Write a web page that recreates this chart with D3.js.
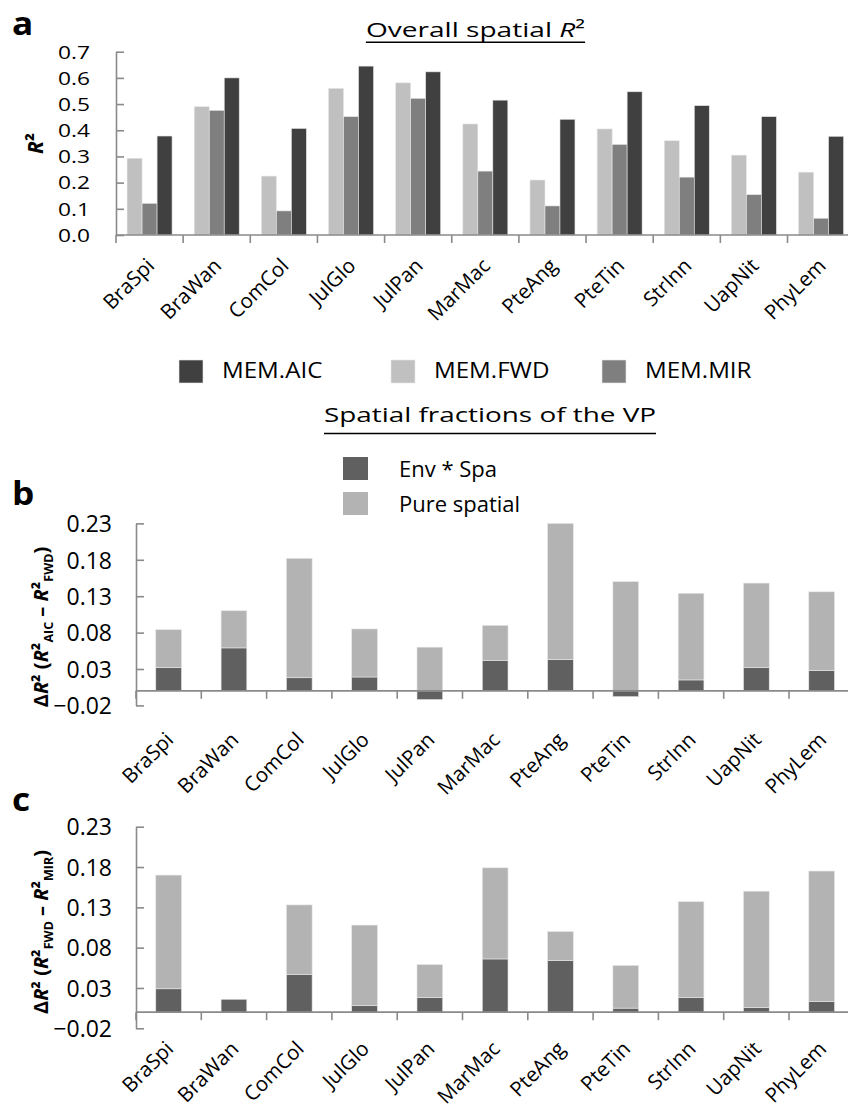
<!DOCTYPE html>
<html>
<head>
<meta charset="utf-8">
<script src="https://cdn.jsdelivr.net/npm/d3@7"></script>
<style>
  html, body { margin: 0; padding: 0; background: #fff; }
  svg { display: block; font-family: "Open Sans", "Noto Sans", sans-serif; }
</style>
</head>
<body>
<svg id="fig" width="848" height="1104"></svg>
<script>
// Species codes shared by all three panels
const categories = ["BraSpi", "BraWan", "ComCol", "JulGlo", "JulPan", "MarMac",
                    "PteAng", "PteTin", "StrInn", "UapNit", "PhyLem"];

// Panel a: overall spatial R² per selection method
const memFWD = [0.293, 0.490, 0.225, 0.560, 0.581, 0.424, 0.210, 0.405, 0.360, 0.305, 0.240];
const memMIR = [0.121, 0.476, 0.092, 0.452, 0.522, 0.244, 0.111, 0.346, 0.221, 0.154, 0.064];
const memAIC = [0.378, 0.600, 0.407, 0.645, 0.623, 0.515, 0.442, 0.547, 0.494, 0.452, 0.377];
const aTicks = [0.0, 0.1, 0.2, 0.3, 0.4, 0.5, 0.6, 0.7];

// Panel b: ΔR² (AIC − FWD) split into variation-partitioning fractions
const bEnvSpa = [0.032, 0.059, 0.018, 0.019, -0.012, 0.042, 0.043, -0.008, 0.015, 0.032, 0.028];
const bPure   = [0.052, 0.051, 0.164, 0.066, 0.060, 0.048, 0.187, 0.150, 0.119, 0.116, 0.108];

// Panel c: ΔR² (FWD − MIR) split into the same fractions
const cEnvSpa = [0.029, 0.016, 0.047, 0.008, 0.018, 0.066, 0.064, 0.005, 0.018, 0.006, 0.013];
const cPure   = [0.141, 0.000, 0.086, 0.100, 0.041, 0.113, 0.036, 0.053, 0.119, 0.144, 0.162];

const deltaTicks = [-0.02, 0.03, 0.08, 0.13, 0.18, 0.23];

const methodKeys   = ["FWD", "MIR", "AIC"];
const methodColors = { AIC: "#404040", FWD: "#c0c0c0", MIR: "#7f7f7f" };
const fracColors   = { env: "#606060", pure: "#b3b3b3" };
const axisColor = "#8a8a8a";

const svg = d3.select("#fig");

// Horizontal text with an optional horizontal stretch
function stretchedText(parent, x, y, size, sx, anchor) {
  return parent.append("text")
    .attr("transform", `translate(${x},${y}) scale(${sx},1)`)
    .attr("text-anchor", anchor || "start")
    .attr("font-size", size)
    .attr("fill", "#000");
}

function panelLetter(letter, x, y) {
  stretchedText(svg, x, y, 32, 1.1).attr("font-weight", "bold").text(letter);
}

function underlinedTitle(parts, cx, baseline, lineY, size, sx) {
  const t = stretchedText(svg, cx, baseline, size, sx, "middle");
  parts.forEach(p => t.append("tspan").attr("font-style", p.italic ? "italic" : null).text(p.t));
  const w = t.node().getBBox().width * sx;
  svg.append("line").attr("x1", cx - w / 2).attr("x2", cx + w / 2)
    .attr("y1", lineY).attr("y2", lineY).attr("stroke", "#000").attr("stroke-width", 1.4);
}

function yAxis(g, y, x0, ticks, fmt, size, sx, pad) {
  const ax = d3.axisLeft(y).tickValues(ticks).tickFormat(d3.format(fmt))
    .tickSizeInner(-8).tickSizeOuter(0).tickPadding(pad);
  const sel = g.append("g").attr("transform", `translate(${x0},0)`).call(ax);
  sel.attr("font-family", null).attr("font-size", null);
  sel.select(".domain").attr("stroke", axisColor).attr("stroke-width", 1.6);
  sel.selectAll(".tick line").attr("stroke", axisColor).attr("stroke-width", 1.6);
  sel.selectAll(".tick text").each(function () {
    d3.select(this).attr("x", null).attr("dy", "0.36em")
      .attr("transform", `translate(${-pad},0) scale(${sx},1)`)
      .attr("font-size", size).attr("fill", "#000");
  });
}

function xAxis(g, x, yLine, labelY) {
  const [r0, r1] = x.range();
  g.append("line").attr("x1", r0).attr("x2", r1 + 20).attr("y1", yLine).attr("y2", yLine)
    .attr("stroke", axisColor).attr("stroke-width", 1.6);
  const half = (x.step() - x.bandwidth()) / 2;
  const edges = categories.map(c => x(c) - half)
    .concat([x(categories[categories.length - 1]) + x.bandwidth() + half]);
  g.selectAll(".xt").data(edges).join("line")
    .attr("x1", d => d).attr("x2", d => d)
    .attr("y1", yLine).attr("y2", yLine + 8)
    .attr("stroke", axisColor).attr("stroke-width", 1.6);
  g.selectAll(".xl").data(categories).join("text")
    .attr("transform", d => `translate(${x(d) + x.bandwidth() / 2 + 6},${labelY}) rotate(-45)`)
    .attr("text-anchor", "end")
    .attr("font-size", 20.5)
    .attr("fill", "#000")
    .text(d => d);
}

/* ---------------- Panel a ---------------- */
panelLetter("a", 12, 35);
underlinedTitle([{ t: "Overall spatial " }, { t: "R", italic: true }, { t: "²" }], 475.5, 37, 42.3, 20.5, 1.37);

const ga = svg.append("g");
const xa = d3.scaleBand().domain(categories).range([116, 116 + 11 * 67.15])
  .paddingInner(0.33).paddingOuter(0.165);
const xaInner = d3.scaleBand().domain(methodKeys).range([0, xa.bandwidth()]);
const ya = d3.scaleLinear().domain([0, 0.7]).range([235, 51.7]);
const aRows = categories.map((c, i) => ({ c, FWD: memFWD[i], MIR: memMIR[i], AIC: memAIC[i] }));

ga.selectAll(".grp").data(aRows).join("g")
  .attr("transform", d => `translate(${xa(d.c)},0)`)
  .selectAll("rect").data(d => methodKeys.map(k => ({ k, v: d[k] }))).join("rect")
  .attr("x", d => xaInner(d.k)).attr("width", xaInner.bandwidth())
  .attr("y", d => ya(d.v)).attr("height", d => ya(0) - ya(d.v))
  .attr("fill", d => methodColors[d.k])
  .attr("stroke", "#e6e6e6").attr("stroke-width", 0.6);

yAxis(ga, ya, 116, aTicks, ".1f", 17.5, 1.3, 26);
xAxis(ga, xa, ya(0), 267);

// y label
svg.append("text").attr("transform", "translate(43,143.5) rotate(-90)")
  .attr("text-anchor", "middle").attr("font-size", 21).attr("font-weight", "bold")
  .call(t => {
    t.append("tspan").attr("font-style", "italic").text("R");
    t.append("tspan").text("²");
  });

// legend a
const legA = [{ k: "AIC", x: 179 }, { k: "FWD", x: 391 }, { k: "MIR", x: 602 }];
legA.forEach(l => {
  svg.append("rect").attr("x", l.x).attr("y", 360).attr("width", 24).attr("height", 23)
    .attr("fill", methodColors[l.k]).attr("stroke", "#e6e6e6").attr("stroke-width", 0.6);
  stretchedText(svg, l.x + 43, 378, 21, 1.15).text("MEM." + l.k);
});

/* ---------------- Panels b and c ---------------- */
underlinedTitle([{ t: "Spatial fractions of the VP" }], 490, 421.5, 433.5, 20.5, 1.36);

// legend b
[{ k: "env", label: "Env * Spa", y: 457 }, { k: "pure", label: "Pure spatial", y: 492 }].forEach(l => {
  svg.append("rect").attr("x", 343).attr("y", l.y).attr("width", 25).attr("height", 23)
    .attr("fill", fracColors[l.k]);
  stretchedText(svg, 399, l.y + 20, 22, 1.0).text(l.label);
});

function deltaPanel(env, pure, yTop, yBottom, labelY, subA, subB, labelCy) {
  const g = svg.append("g");
  const x = d3.scaleBand().domain(categories).range([136, 136 + 11 * 65.3])
    .paddingInner(0.606).paddingOuter(0.303);
  const y = d3.scaleLinear().domain([-0.02, 0.23]).range([yBottom, yTop]);
  const rows = categories.map((c, i) => ({ c, env: env[i], pure: pure[i] }));
  const series = d3.stack().keys(["env", "pure"]).offset(d3.stackOffsetDiverging)(rows);

  g.selectAll(".s").data(series).join("g")
    .attr("fill", d => fracColors[d.key])
    .selectAll("rect").data(d => d.filter(v => v[1] !== v[0])).join("rect")
    .attr("x", d => x(d.data.c)).attr("width", x.bandwidth())
    .attr("y", d => y(Math.max(d[0], d[1])))
    .attr("height", d => Math.abs(y(d[0]) - y(d[1])))
    .attr("stroke", "#e6e6e6").attr("stroke-width", 0.6);

  yAxis(g, y, 136, deltaTicks, ".2f", 23, 1.0, 24);
  xAxis(g, x, y(0), labelY);

  // y label: ΔR² (R²_A − R²_B)
  const t = svg.append("text").attr("transform", `translate(48,${labelCy}) rotate(-90)`)
    .attr("text-anchor", "middle").attr("font-size", 20).attr("font-weight", "bold");
  t.append("tspan").text("Δ");
  t.append("tspan").attr("font-style", "italic").text("R");
  t.append("tspan").text("² (");
  t.append("tspan").attr("font-style", "italic").text("R");
  t.append("tspan").text("²");
  t.append("tspan").attr("font-size", 12.5).attr("dy", 5).text(subA);
  t.append("tspan").attr("dy", -5).text(" – ");
  t.append("tspan").attr("font-style", "italic").text("R");
  t.append("tspan").text("²");
  t.append("tspan").attr("font-size", 12.5).attr("dy", 5).text(subB);
  t.append("tspan").attr("dy", -5).text(")");
}

panelLetter("b", 12, 505);
deltaPanel(bEnvSpa, bPure, 523.4, 705.4, 741, "AIC", "FWD", 627);

panelLetter("c", 12, 811);
deltaPanel(cEnvSpa, cPure, 826.7, 1028.3, 1050, "FWD", "MIR", 932);
</script>
</body>
</html>
